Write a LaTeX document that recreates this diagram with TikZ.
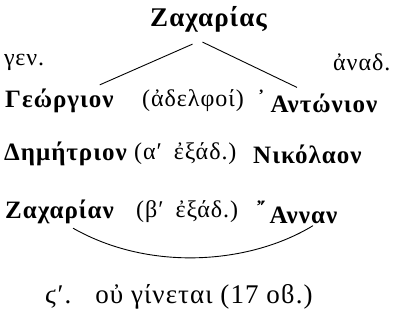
\documentclass[tikz,border=0pt]{standalone}
\usepackage{fontspec}
\setmainfont{Liberation Serif}
\newfontfamily\spacedgreek[LetterSpace=4]{Liberation Serif}
\usepackage{tikz}
\usetikzlibrary{calc}
\tikzset{
  person/.style={font=\spacedgreek\fontsize{25}{30}\selectfont\bfseries, inner sep=0pt, anchor=west},
  remark/.style={font=\spacedgreek\fontsize{24}{28}\selectfont, inner sep=0pt, anchor=west},
  link/.style={draw=black, line width=0.9pt}
}

\begin{document}
\begin{tikzpicture}[x=1pt,y=-1pt]
  \useasboundingbox (0,0) rectangle (395,325);
  % head of the family
  \node[person, font=\spacedgreek\fontsize{27}{30}\selectfont\bfseries] (top) at (150,19) {Ζαχαρίας};
  \node[remark] (gen) at (4,62) {γεν.};
  \node[remark] (anad) at (333,62) {ἀναδ.};
  % brothers
  \node[person] (geo) at (5,101) {Γεώργιον};
  \node[remark] (adel) at (142,101) {(ἀδελφοί)};
  \node[person] (ant) at (257,101) {\raisebox{5pt}{᾿}\kern5ptΑντώνιον};
  % first cousins
  \node[person] (dim) at (4,154) {Δημήτριον};
  \node[remark] (ex1) at (134,154) {(αʹ\hspace{12pt}ἐξάδ.)};
  \node[person] (nik) at (253,154) {Νικόλαον};
  % second cousins
  \node[person] (zach) at (5,212) {Ζαχαρίαν};
  \node[remark] (ex2) at (136,212) {(βʹ\hspace{12pt}ἐξάδ.)};
  \node[person] (ann) at (257,212) {\raisebox{5pt}{῎}\kern4ptΑνναν};
  \node[remark, font=\spacedgreek\fontsize{27}{30}\selectfont] (res) at (45,297)
    {ϛʹ.\hspace{24pt}οὐ γίνεται (17 οϐ.)};
  \draw[link] ($(top.south)+(-16,12)$) -- ($(geo.north east)+(-14,-4)$);
  \draw[link] ($(top.south)+(-6,10)$) -- ($(ant.north west)+(40,-2)$);
  \draw[link] ($(zach.south west)+(68,4)$) .. controls (150,272) and (250,264) .. ($(ann.south west)+(56,2)$);
\end{tikzpicture}
\end{document}
